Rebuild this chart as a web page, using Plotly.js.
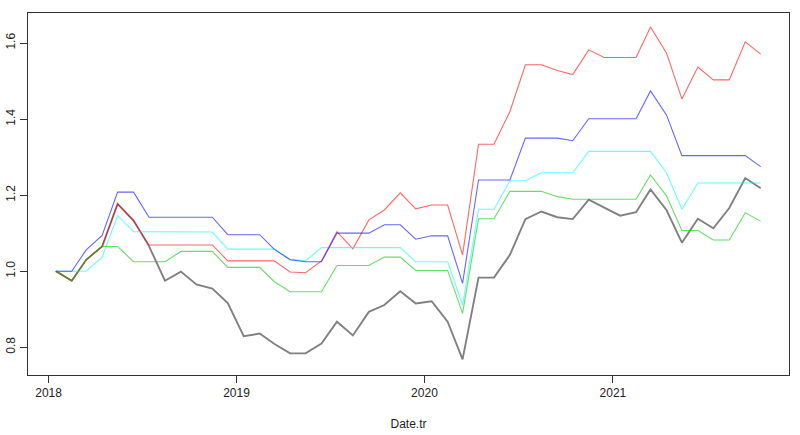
<!DOCTYPE html>
<html>
<head>
<meta charset="utf-8">
<script src="https://cdn.plot.ly/plotly-3.0.1.min.js"></script>
<style>html,body{margin:0;padding:0;background:#fff;}#chart{width:800px;height:435px;}</style>
</head>
<body>
<div id="chart"></div>
<script>
const dates = [
 '2018-01-15','2018-02-15','2018-03-15','2018-04-15','2018-05-15','2018-06-15','2018-07-15','2018-08-15','2018-09-15','2018-10-15','2018-11-15','2018-12-15',
 '2019-01-15','2019-02-15','2019-03-15','2019-04-15','2019-05-15','2019-06-15','2019-07-15','2019-08-15','2019-09-15','2019-10-15','2019-11-15','2019-12-15',
 '2020-01-15','2020-02-15','2020-03-15','2020-04-15','2020-05-15','2020-06-15','2020-07-15','2020-08-15','2020-09-15','2020-10-15','2020-11-15','2020-12-15',
 '2021-01-15','2021-02-15','2021-03-15','2021-04-15','2021-05-15','2021-06-15','2021-07-15','2021-08-15','2021-09-15','2021-10-15'];

const grayS = [1.000,0.975,1.030,1.065,1.177,1.133,1.066,0.975,0.999,0.965,0.954,0.916,
 0.829,0.836,0.809,0.784,0.784,0.810,0.867,0.831,0.893,0.911,0.947,0.915,
 0.921,0.867,0.768,0.983,0.983,1.043,1.137,1.157,1.142,1.137,1.188,1.168,
 1.146,1.155,1.215,1.161,1.075,1.138,1.113,1.166,1.245,1.218];

const redS = [1.000,0.975,1.030,1.065,1.177,1.133,1.069,1.069,1.069,1.069,1.069,1.027,
 1.027,1.027,1.027,0.998,0.996,1.027,1.104,1.059,1.135,1.161,1.206,1.164,
 1.174,1.174,1.043,1.334,1.334,1.420,1.543,1.543,1.528,1.517,1.582,1.562,
 1.562,1.562,1.642,1.574,1.453,1.537,1.503,1.503,1.603,1.571];

const blueS = [1.000,1.000,1.056,1.094,1.208,1.208,1.142,1.142,1.142,1.142,1.142,1.096,
 1.096,1.096,1.058,1.030,1.025,1.025,1.100,1.100,1.100,1.122,1.122,1.084,
 1.093,1.093,0.968,1.240,1.240,1.240,1.350,1.350,1.350,1.343,1.401,1.401,
 1.401,1.401,1.474,1.411,1.304,1.304,1.304,1.304,1.304,1.275];

const cyanS = [1.000,1.000,1.000,1.037,1.146,1.104,1.104,1.104,1.103,1.103,1.103,1.058,
 1.058,1.058,1.058,1.031,1.027,1.062,1.062,1.062,1.062,1.062,1.062,1.025,
 1.025,1.025,0.911,1.163,1.163,1.238,1.238,1.259,1.259,1.259,1.315,1.315,
 1.315,1.315,1.315,1.259,1.163,1.232,1.232,1.232,1.232,1.232];

const greenS = [1.000,0.975,1.030,1.065,1.065,1.025,1.025,1.025,1.052,1.052,1.052,1.010,
 1.010,1.010,0.973,0.946,0.946,0.946,1.015,1.015,1.015,1.037,1.037,1.002,
 1.002,1.002,0.889,1.138,1.138,1.210,1.210,1.210,1.196,1.189,1.189,1.189,
 1.189,1.189,1.253,1.198,1.107,1.107,1.082,1.082,1.154,1.131];

const yTickVals = [0.8, 1.0, 1.2, 1.4, 1.6];
const yTickText = ['0.8', '1.0', '1.2', '1.4', '1.6'];
const xTickVals = ['2018-01-01', '2019-01-01', '2020-01-01', '2021-01-01'];
const xTickText = ['2018', '2019', '2020', '2021'];

function tr(y, color, width) {
  return {x: dates, y: y, type: 'scatter', mode: 'lines', line: {color: color, width: width}, hoverinfo: 'skip'};
}

const data = [
  tr(grayS, 'rgb(128,128,128)', 1.9),
  tr(redS, 'rgba(255,0,0,0.6)', 1.1),
  tr(cyanS, 'rgba(0,255,255,0.6)', 1.1),
  tr(blueS, 'rgba(0,0,255,0.6)', 1.1),
  tr(greenS, 'rgba(0,200,0,0.6)', 1.1)
];

const axisFont = {family: 'Liberation Sans, Arial, sans-serif', size: 12, color: '#222'};

const layout = {
  width: 800, height: 435,
  margin: {l: 28, r: 11, t: 13, b: 60, pad: 0},
  paper_bgcolor: '#fff', plot_bgcolor: '#fff',
  showlegend: false,
  font: axisFont,
  xaxis: {
    type: 'date',
    range: ['2017-11-22', '2021-12-09'],
    tickmode: 'array', tickvals: xTickVals, ticktext: xTickText,
    ticks: 'outside', ticklen: 7, tickwidth: 1, tickcolor: '#333',
    showline: true, mirror: true, linecolor: '#333', linewidth: 1,
    showgrid: false, zeroline: false,
    tickfont: axisFont,
    title: {text: 'Date.tr', font: axisFont, standoff: 20},
    automargin: false
  },
  yaxis: {
    range: [0.727, 1.679],
    tickmode: 'array', tickvals: yTickVals, ticktext: yTickText,
    tickangle: -90,
    ticks: 'outside', ticklen: 7, tickwidth: 1, tickcolor: '#333',
    showline: true, mirror: true, linecolor: '#333', linewidth: 1,
    showgrid: false, zeroline: false,
    tickfont: axisFont,
    automargin: false
  }
};

Plotly.newPlot('chart', data, layout, {displayModeBar: false, staticPlot: true});
</script>
</body>
</html>
